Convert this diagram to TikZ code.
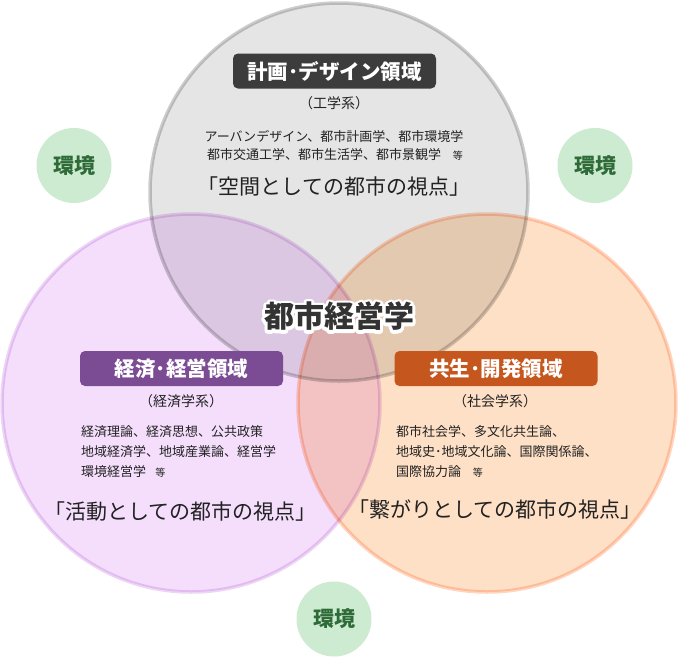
\documentclass[tikz,border=0pt]{standalone}
\usepackage{fontspec}
\setmainfont{Noto Sans CJK JP}
\definecolor{topfill}{HTML}{E5E5E5}
\definecolor{topline}{HTML}{CDCDCD}
\definecolor{leftfill}{HTML}{F4DEFC}
\definecolor{leftline}{HTML}{EDD6F4}
\definecolor{rightfill}{HTML}{FEE0C6}
\definecolor{rightline}{HTML}{FFD4C0}
\definecolor{topbox}{HTML}{3C3C3C}
\definecolor{leftbox}{HTML}{7B4B94}
\definecolor{rightbox}{HTML}{C5561D}
\definecolor{envfill}{HTML}{CDEBD1}
\definecolor{envtext}{HTML}{2F6B38}
\definecolor{txt}{HTML}{222222}
\definecolor{maintxt}{HTML}{333333}
\newcommand\smalltou{{\fontsize{10}{10}\selectfont 等}}
\newcommand\halostroke[1]{\special{pdf:literal direct q 1 1 1 RG 6 w 1 j 2 Tr}#1\special{pdf:literal direct Q}}
\begin{document}
\begin{tikzpicture}[x=1pt,y=-1pt,
  region/.style={line width=3.5pt, blend mode=multiply},
  titlebox/.style={rounded corners=5pt, minimum width=203pt, minimum height=35pt, inner sep=0pt,
    text=white, font=\fontsize{20.5}{20.5}\selectfont\bfseries},
  subtxt/.style={inner sep=0pt, text=txt, font=\fontsize{14}{14}\selectfont},
  bodytxt/.style={inner sep=0pt, text=txt, font=\fontsize{13}{13}\selectfont},
  viewtxt/.style={inner sep=0pt, text=txt, font=\fontsize{21}{21}\selectfont},
  envcirc/.style={circle, fill=envfill, minimum size=75pt, inner sep=0pt, text=envtext,
    font=\fontsize{21}{21}\selectfont\bfseries},
  maintext/.style={inner sep=0pt, text=maintxt, font=\fontsize{30}{30}\selectfont\bfseries}
]
\useasboundingbox (0,0) rectangle (678,657);
\fill[white] (0,0) rectangle (678,657);

% three regions (multiply blending)
\path[region, draw=topline, fill=topfill] (339,192) circle[radius=189];
\path[region, draw=leftline, fill=leftfill] (191,403) circle[radius=189];
\path[region, draw=rightline, fill=rightfill] (487,403) circle[radius=189];

% environment circles
\node[envcirc] (envL) at (74,165.5) {環境};
\node[envcirc] (envR) at (595,165.5) {環境};
\node[envcirc] (envB) at (334,619) {環境};

% top region
\node[titlebox, fill=topbox] (tTitle) at (334.5,71) {計画･デザイン領域};
\node[subtxt] (tSub) at (334,103) {（工学系）};
\node[bodytxt] (tL1) at (334,136) {アーバンデザイン、都市計画学、都市環境学};
\node[bodytxt] (tL2) at (335,155) {都市交通工学、都市生活学、都市景観学\hspace{0.9em}\smalltou};
\node[viewtxt] (tView) at (334,187) {「空間としての都市の視点」};

% left region
\node[titlebox, fill=leftbox] (lTitle) at (181.5,368.5) {経済･経営領域};
\node[subtxt] (lSub) at (181,401.5) {（経済学系）};
\node[bodytxt, anchor=west] (lL1) at (81,431.5) {経済理論、経済思想、公共政策};
\node[bodytxt, anchor=west] (lL2) at (81,451.5) {地域経済学、地域産業論、経営学};
\node[bodytxt, anchor=west] (lL3) at (81,471.5) {環境経営学\hspace{0.7em}\smalltou};
\node[viewtxt] (lView) at (180.5,511.5) {「活動としての都市の視点」};

% right region
\node[titlebox, fill=rightbox] (rTitle) at (496,368.5) {共生･開発領域};
\node[subtxt] (rSub) at (495,401.5) {（社会学系）};
\node[bodytxt, anchor=west] (rL1) at (396,431.5) {都市社会学、多文化共生論、};
\node[bodytxt, anchor=west] (rL2) at (396,451.5) {地域史･地域文化論、国際関係論、};
\node[bodytxt, anchor=west] (rL3) at (396,471.5) {国際協力論\hspace{0.9em}\smalltou};
\node[viewtxt] (rView) at (495,510) {「繋がりとしての都市の視点」};

% centre title with white halo
\node[maintext] (mainT) at (339,316.5)
  {\rlap{\color{white}\halostroke{都市経営学}}都市経営学};
\end{tikzpicture}
\end{document}
